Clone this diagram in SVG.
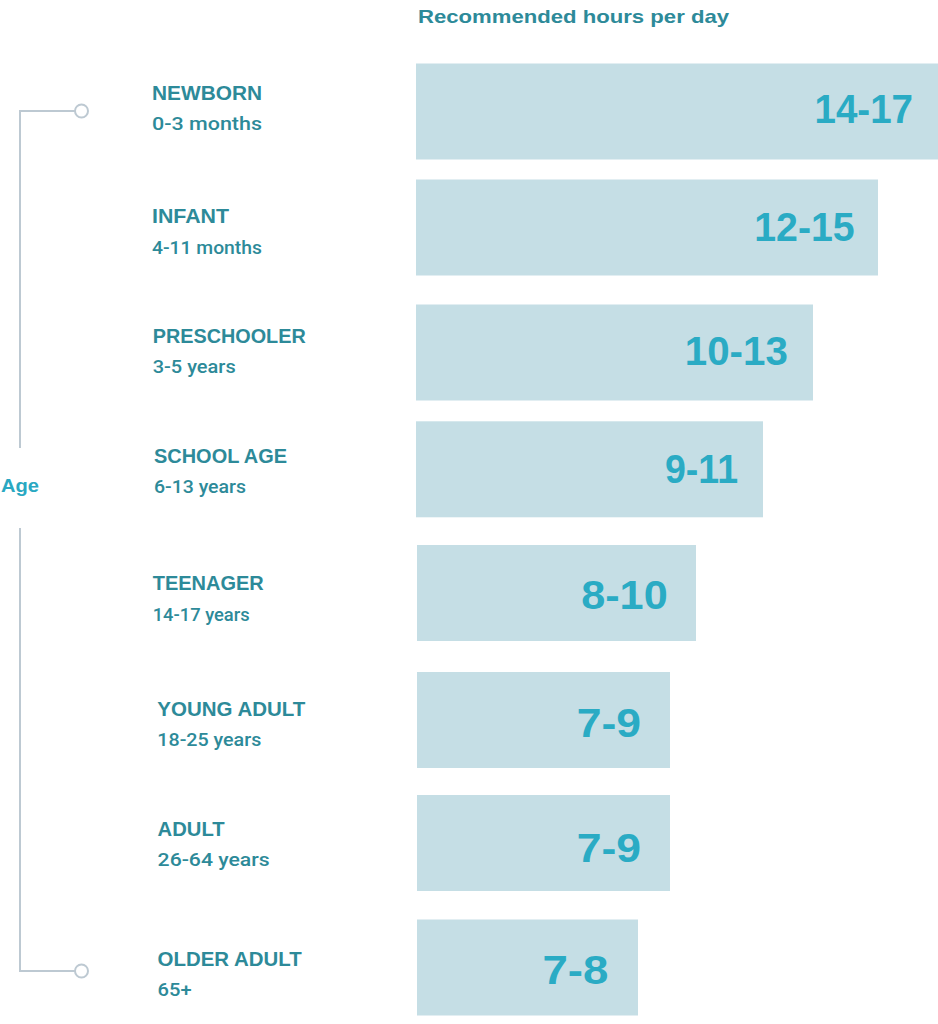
<svg xmlns="http://www.w3.org/2000/svg" width="938" height="1024" viewBox="0 0 938 1024">
<style>
.bar{fill:#C5DEE5}
.num{font-family:"Liberation Sans",Arial,sans-serif;font-weight:bold;font-size:41px;fill:#2AABC4}
.head{font-family:"Liberation Sans",Arial,sans-serif;font-weight:bold;font-size:20px;fill:#2D8A99}
.sub{font-family:Roboto,"Liberation Sans",Arial,sans-serif;font-weight:500;font-size:18px;fill:#2D8A99}
.title{font-family:"Liberation Sans",Arial,sans-serif;font-weight:bold;font-size:18.5px;fill:#2D8A99}
.age{font-family:"Liberation Sans",Arial,sans-serif;font-weight:bold;font-size:19px;fill:#2AA8C2}
.line{fill:none;stroke:#BDC9D2;stroke-width:2}
.dot{fill:#FFFFFF;stroke:#BDC9D2;stroke-width:2}
</style>
<rect width="938" height="1024" fill="#FFFFFF"/>
<text class="title" x="418" y="22.7" textLength="311" lengthAdjust="spacingAndGlyphs">Recommended hours per day</text>

<g id="connectors">
<path class="line" d="M75,111 H20 V448"/>
<path class="line" d="M20,528 V971 H75"/>
<circle class="dot" cx="81.5" cy="111" r="6.5"/>
<circle class="dot" cx="81.5" cy="971" r="6.5"/>
</g>
<g id="axis-label">
<text class="age" x="1" y="491.7" textLength="38" lengthAdjust="spacingAndGlyphs">Age</text>
</g>

<g id="newborn">
<text class="head" x="152" y="100" textLength="110" lengthAdjust="spacingAndGlyphs">NEWBORN</text>
<text class="sub" x="152" y="130" textLength="110" lengthAdjust="spacingAndGlyphs">0-3 months</text>
<rect class="bar" x="416" y="63.5" width="522" height="96"/>
<text class="num" x="814.5" y="122.7" textLength="98.5" lengthAdjust="spacingAndGlyphs">14-17</text>
</g>

<g id="infant">
<text class="head" x="152" y="223.3" textLength="77" lengthAdjust="spacingAndGlyphs">INFANT</text>
<text class="sub" x="152" y="254" textLength="110" lengthAdjust="spacingAndGlyphs">4-11 months</text>
<rect class="bar" x="416" y="179.5" width="462" height="96"/>
<text class="num" x="754.2" y="240.7" textLength="100.5" lengthAdjust="spacingAndGlyphs">12-15</text>
</g>

<g id="preschooler">
<text class="head" x="152.7" y="342.7" textLength="153" lengthAdjust="spacingAndGlyphs">PRESCHOOLER</text>
<text class="sub" x="152.7" y="372.7" textLength="83" lengthAdjust="spacingAndGlyphs">3-5 years</text>
<rect class="bar" x="416" y="304.5" width="397" height="96"/>
<text class="num" x="684.8" y="365" textLength="103" lengthAdjust="spacingAndGlyphs">10-13</text>
</g>

<g id="school-age">
<text class="head" x="154" y="463.3" textLength="133" lengthAdjust="spacingAndGlyphs">SCHOOL AGE</text>
<text class="sub" x="154" y="493.3" textLength="92" lengthAdjust="spacingAndGlyphs">6-13 years</text>
<rect class="bar" x="416" y="421.3" width="347" height="96"/>
<text class="num" x="665" y="483.3" textLength="73" lengthAdjust="spacingAndGlyphs">9-11</text>
</g>

<g id="teenager">
<text class="head" x="152.7" y="590.3" textLength="111" lengthAdjust="spacingAndGlyphs">TEENAGER</text>
<text class="sub" x="152.7" y="620.5" textLength="97" lengthAdjust="spacingAndGlyphs">14-17 years</text>
<rect class="bar" x="417" y="545" width="279" height="96"/>
<text class="num" x="581.2" y="609.3" textLength="86.5" lengthAdjust="spacingAndGlyphs">8-10</text>
</g>

<g id="young-adult">
<text class="head" x="157.3" y="716" textLength="148" lengthAdjust="spacingAndGlyphs">YOUNG ADULT</text>
<text class="sub" x="157.3" y="745.7" textLength="104" lengthAdjust="spacingAndGlyphs">18-25 years</text>
<rect class="bar" x="417" y="672" width="253" height="96"/>
<text class="num" x="576.7" y="736.7" textLength="64.3" lengthAdjust="spacingAndGlyphs">7-9</text>
</g>

<g id="adult">
<text class="head" x="157.6" y="835.7" textLength="67" lengthAdjust="spacingAndGlyphs">ADULT</text>
<text class="sub" x="157.6" y="865.7" textLength="112" lengthAdjust="spacingAndGlyphs" font-weight="bold">26-64 years</text>
<rect class="bar" x="417" y="795" width="253" height="96"/>
<text class="num" x="576.7" y="861.7" textLength="64.3" lengthAdjust="spacingAndGlyphs">7-9</text>
</g>

<g id="older-adult">
<text class="head" x="157.6" y="966" textLength="144" lengthAdjust="spacingAndGlyphs">OLDER ADULT</text>
<text class="sub" x="157.6" y="996" textLength="34" lengthAdjust="spacingAndGlyphs" font-weight="bold">65+</text>
<rect class="bar" x="417" y="919.5" width="221" height="96"/>
<text class="num" x="542.4" y="984" textLength="66" lengthAdjust="spacingAndGlyphs">7-8</text>
</g>
</svg>
